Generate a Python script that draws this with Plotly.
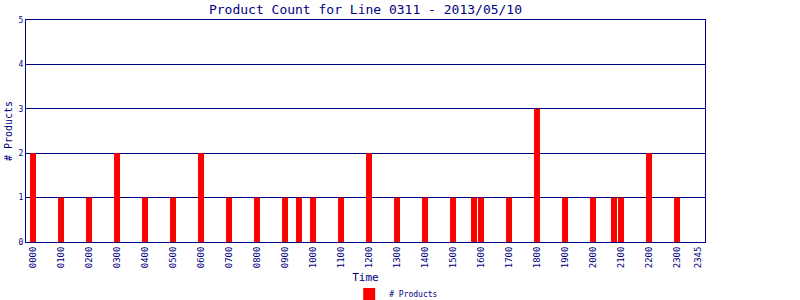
import plotly.graph_objects as go

# Data: 15-minute time slots with product counts
times = ["0000", "0100", "0200", "0300", "0400", "0500", "0600", "0700", "0800",
         "0900", "0930", "1000", "1100", "1200", "1300", "1400", "1500", "1545",
         "1600", "1700", "1800", "1900", "2000", "2045", "2100", "2200", "2300"]
counts = [2, 1, 1, 2, 1, 1, 2, 1, 1,
          1, 1, 1, 1, 2, 1, 1, 1, 1,
          1, 1, 3, 1, 1, 1, 1, 2, 1]
tick_labels = ["0000", "0100", "0200", "0300", "0400", "0500", "0600", "0700",
               "0800", "0900", "1000", "1100", "1200", "1300", "1400", "1500",
               "1600", "1700", "1800", "1900", "2000", "2100", "2200", "2300", "2345"]


def slot(t):
    return int(t[:2]) * 4 + int(t[2:]) // 15


navy = "#000080"
font = "DejaVu Sans Mono"

fig = go.Figure()
fig.add_trace(go.Bar(
    x=[slot(t) for t in times], y=counts, name="# Products",
    marker=dict(color="#ff0000", line=dict(width=0)), width=0.85,
))

fig.update_layout(
    width=800, height=300,
    margin=dict(l=26, r=95, t=20, b=58, autoexpand=False),
    paper_bgcolor="white", plot_bgcolor="white",
    title=dict(text="Product Count for Line 0311 - 2013/05/10",
               font=dict(family=font, size=13, color=navy),
               x=(26 + 705) / 2 / 800, xanchor="center", y=0.97, yanchor="middle"),
    showlegend=True,
    legend=dict(orientation="h", x=0.476, xanchor="left", y=-0.234, yanchor="middle",
                font=dict(family=font, size=8, color=navy), itemwidth=30,
                bgcolor="rgba(0,0,0,0)"),
    xaxis=dict(
        range=[-1, 96], tickmode="array", automargin=False,
        tickvals=[slot(t) for t in tick_labels], ticktext=tick_labels,
        tickangle=-90, tickfont=dict(family=font, size=9, color=navy),
        showgrid=False, zeroline=False, showline=True, linecolor=navy,
        linewidth=1, mirror=True, ticks="",
        title=dict(text="Time", font=dict(family=font, size=11, color=navy), standoff=6),
    ),
    yaxis=dict(
        range=[0, 5], tickvals=[0, 1, 2, 3, 4, 5], automargin=False,
        tickfont=dict(family=font, size=8, color=navy),
        showgrid=True, gridcolor=navy, gridwidth=1, zeroline=False,
        showline=True, linecolor=navy, linewidth=1, mirror=True, ticks="",
        title=dict(text="# Products", font=dict(family=font, size=10, color=navy), standoff=4),
    ),
)

fig.write_html("out.html")
